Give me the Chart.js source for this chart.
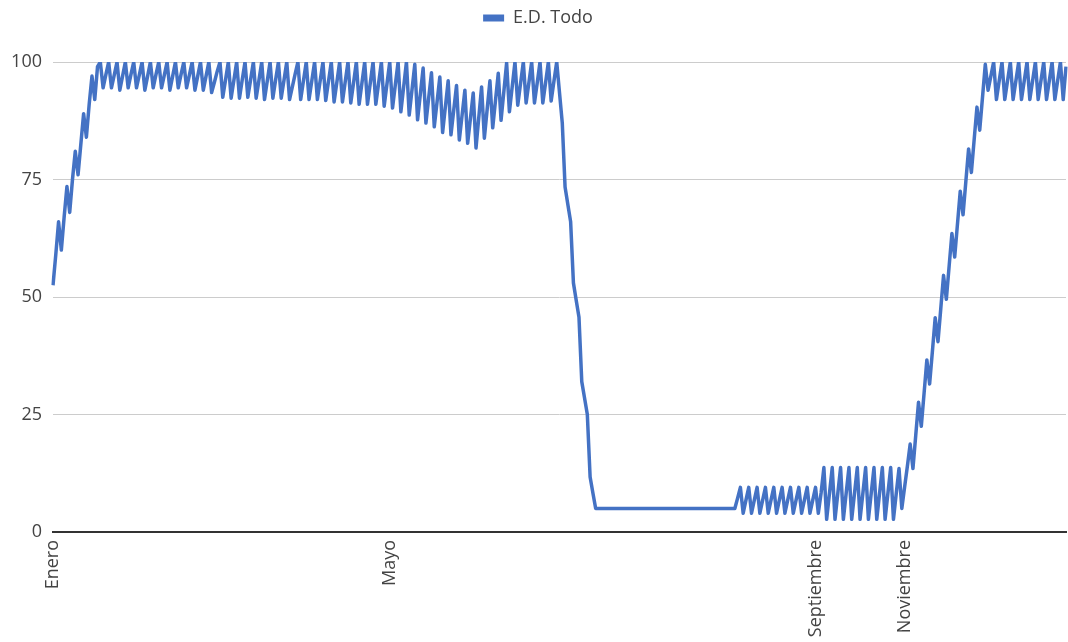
<!DOCTYPE html>
<html>
<head>
<meta charset="utf-8">
<script src="https://cdn.jsdelivr.net/npm/chart.js@4.4.1/dist/chart.umd.min.js"></script>
<style>
  html, body { margin: 0; padding: 0; background: #ffffff; }
  #c { display: block; }
</style>
</head>
<body>
<canvas id="c" width="1068" height="642"></canvas>
<script>
// ---- Data (daily values) ----
const seriesName = "E.D. Todo";
const monthNames = ["Enero", "Mayo", "Septiembre", "Noviembre"];
const monthIdx = [0, 121, 274, 306];

const riseJan = [52.5, 59, 66, 60, 67, 73.5, 68, 75, 81, 76, 82.5, 89, 84, 91, 97, 92, 99, 100];

const plateauA = [
  94.5, 97.3, 100, 94.5, 97.2, 100, 94, 97, 100, 94.5, 97.3, 100, 94.5, 97.2, 100,
  94, 97, 100, 94.5, 97.3, 100, 94.5, 97.2, 100, 94, 97, 100, 94.5, 97.3, 100,
  94.5, 97.2, 100, 94, 97, 100, 94, 97, 100,
  93.5, 95.7, 98, 100,
  92.5, 96.2, 100, 92.3, 96.1, 100, 92.3, 96.2, 100, 92.5, 96.2, 100,
  92.3, 96.1, 100, 92, 96, 100, 92.3, 96.2, 100, 92.3, 96.1, 100,
  92, 94.7, 97.4, 100,
  92, 96, 100, 92, 96, 100, 92, 96, 100, 91.8, 95.9, 100,
  91.5, 95.7, 100, 91.5, 95.8, 100, 91.3, 95.6, 100, 91, 95.5, 100,
  91, 95.5, 100, 91, 95.5, 100, 90.6, 95.3, 100, 90.2, 95.1, 100
];

const dipMay = [
  89.4, 94.7, 100, 88.7, 94.1, 99.5, 87.7, 93.2, 98.7, 87, 92.4, 97.7,
  86.2, 91.5, 96.8, 85, 90.5, 96, 84.5, 89.8, 95, 83.4, 88.7, 94,
  82.7, 88, 93.4, 81.7, 88.2, 94.7, 83.8, 89.9, 96, 86, 91.8, 97.6,
  87.6, 93.7, 99.8, 89.4, 94.7, 100, 90.8, 95.4, 100, 91.3, 95.6, 100,
  91.3, 95.6, 100, 91.3, 95.6, 100, 91.7, 95.9, 100
];

const dropJul = [93.5, 87, 73.4, 69.7, 66, 53, 49.3, 45.7, 32, 28.5, 25, 11.7, 8.3, 5];

const flatSummer = [
  5, 5, 5, 5, 5, 5, 5,
  5, 5, 5, 5, 5, 5, 5,
  5, 5, 5, 5, 5, 5, 5,
  5, 5, 5, 5, 5, 5, 5,
  5, 5, 5, 5, 5, 5, 5,
  5, 5, 5, 5, 5, 5, 5,
  5, 5, 5, 5, 5, 5, 5
];

const smallZig = [
  5, 7.2, 9.5,
  4, 6.8, 9.5, 4, 6.8, 9.5, 4, 6.8, 9.5,
  4, 6.8, 9.5, 4, 6.8, 9.5, 4, 6.8, 9.5,
  4, 6.8, 9.5, 4, 6.8, 9.5, 4, 6.8, 9.5,
  4
];

const bigZig = [
  8.3, 13.7,
  2.7, 8.2, 13.7, 2.7, 8.2, 13.7, 2.7, 8.2, 13.7, 2.7, 8.2, 13.7,
  2.7, 8.2, 13.7, 2.7, 8.2, 13.7, 2.7, 8.2, 13.7, 2.7, 8.2, 13.7,
  2.7, 8.2, 13.5, 5
];

const riseNov = [
  9.5, 14, 18.7, 13.5, 20.5, 27.6, 22.5, 29.5, 36.6, 31.5,
  38.5, 45.6, 40.5, 47.5, 54.6, 49.5, 56.5, 63.5, 58.5, 65.5,
  72.5, 67.5, 74.5, 81.5, 76.5, 83.5, 90.4, 85.5, 92.5, 99.5
];

const plateauEnd = [
  94, 97, 100,
  92, 96, 100, 92, 96, 100, 92, 96, 100, 92, 96, 100,
  92, 96, 100, 92, 96, 100, 92, 96, 100, 92, 96, 100,
  92, 99
];

const yTicks = [0, 25, 50, 75, 100];

// ---- Build table for the library ----
const values = [].concat(riseJan, plateauA, dipMay, dropJul, flatSummer, smallZig, bigZig, riseNov, plateauEnd);
const labels = values.map(() => "");
monthIdx.forEach((idx, k) => { labels[idx] = monthNames[k]; });

const lineColor = "#4472C4";
const textColor = "#444444";
const fontFamily = "'Open Sans', 'Noto Sans', sans-serif";

new Chart(document.getElementById("c"), {
  type: "line",
  data: {
    labels: labels,
    datasets: [{
      label: seriesName,
      data: values,
      borderColor: lineColor,
      backgroundColor: lineColor,
      borderWidth: 3.5,
      pointRadius: 0,
      pointHoverRadius: 0,
      tension: 0,
      borderJoinStyle: "round",
      fill: false
    }]
  },
  options: {
    responsive: false,
    devicePixelRatio: 1,
    animation: false,
    events: [],
    layout: { padding: { top: 0, right: 2, bottom: 0, left: 10 } },
    plugins: {
      tooltip: { enabled: false },
      legend: {
        display: true,
        position: "top",
        weight: 3000,
        labels: {
          boxWidth: 21,
          boxHeight: 7,
          padding: 9,
          color: textColor,
          font: { family: fontFamily, size: 18 },
          generateLabels(chart) {
            const items = Chart.defaults.plugins.legend.labels.generateLabels(chart);
            items.forEach(it => { it.lineWidth = 0; it.fillStyle = lineColor; it.strokeStyle = lineColor; });
            return items;
          }
        }
      },
      subtitle: {
        display: true,
        text: "",
        font: { size: 10 },
        padding: { top: 0, bottom: 13 }
      }
    },
    scales: {
      x: {
        type: "category",
        offset: false,
        grid: { display: false, drawTicks: false },
        border: { display: true, color: "#333333", width: 2 },
        ticks: {
          autoSkip: false,
          maxRotation: 90,
          minRotation: 90,
          padding: 8,
          color: textColor,
          font: { family: fontFamily, size: 18 }
        },
        afterFit(scale) {
          scale.height = 110;
          scale.paddingRight = 0;
          scale.paddingLeft = 0;
        }
      },
      y: {
        min: 0,
        max: 100,
        afterBuildTicks(scale) { scale.ticks = yTicks.map(v => ({ value: v })); },
        grid: {
          drawTicks: false,
          color: (ctx) => (ctx.tick && ctx.tick.value === 0) ? "rgba(0,0,0,0)" : "#cccccc",
          lineWidth: 1
        },
        border: { display: false },
        ticks: {
          padding: 11,
          color: textColor,
          font: { family: fontFamily, size: 18 }
        },
        afterFit(scale) {
          scale.width = 43;
        }
      }
    }
  }
});
</script>
</body>
</html>
